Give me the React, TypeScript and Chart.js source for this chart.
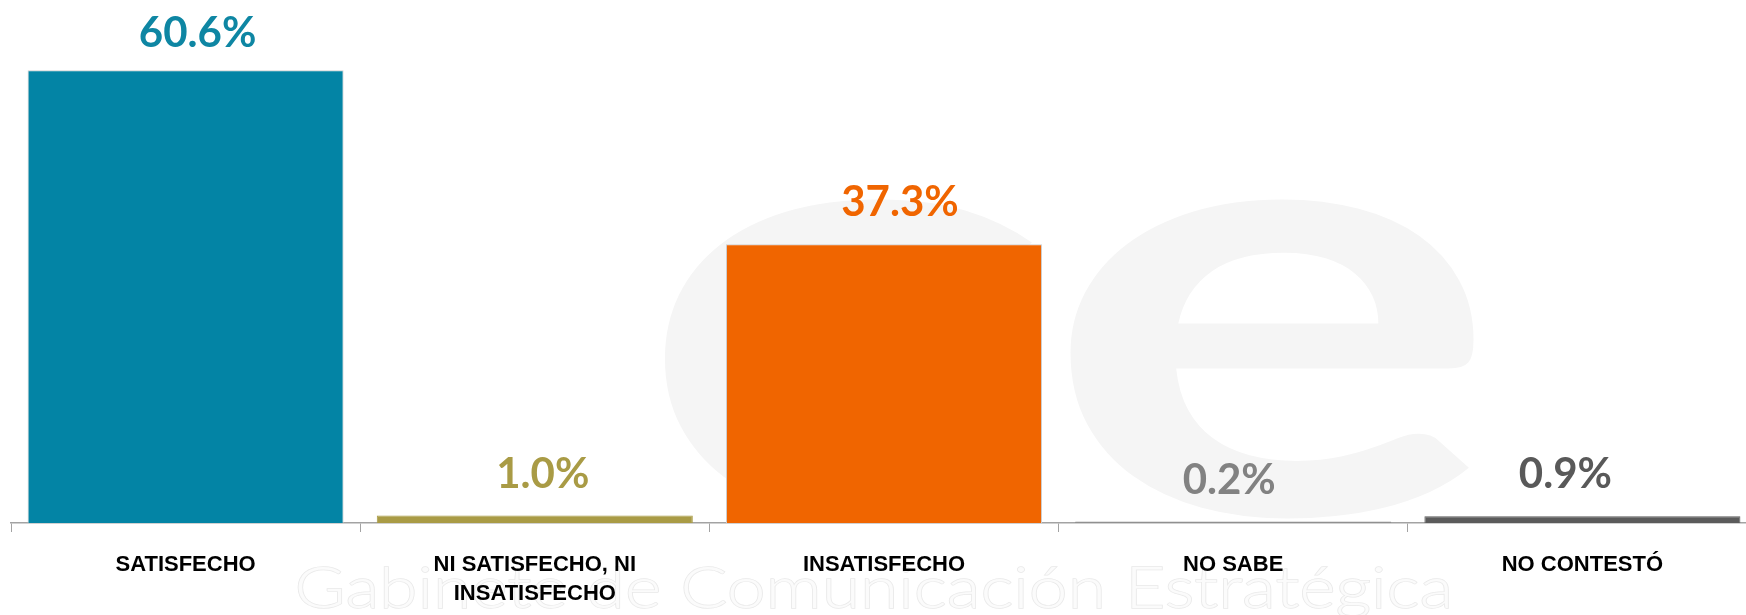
import React, { useEffect, useRef } from "react";
import { Chart, registerables } from "chart.js";

Chart.register(...registerables);

const categories: (string | string[])[] = [
  "SATISFECHO",
  ["NI SATISFECHO, NI", "INSATISFECHO"],
  "INSATISFECHO",
  "NO SABE",
  "NO CONTESTÓ",
];
const values = [60.6, 1.0, 37.3, 0.2, 0.9];
const valueLabels = ["60.6%", "1.0%", "37.3%", "0.2%", "0.9%"];
const barColors = ["#0384A5", "#A99B45", "#F06500", "#8C8C8C", "#5B5B5B"];
const labelColors = ["#0E86A3", "#A99B45", "#F06500", "#828282", "#595959"];
const borderColors = ["#cfcfcf", "#A99B45", "#cfcfcf", "#8C8C8C", "#5B5B5B"];
const watermarkTagline = "Gabinete de Comunicación Estratégica";
const watermarkMark = "ce";

// horizontal nudges of the value labels (style only)
const labelNudgeX = [12, 8, 16, -4, -17];

const watermarkPlugin = {
  id: "watermark",
  beforeDraw(chart: any) {
    const ctx = chart.ctx as CanvasRenderingContext2D;
    ctx.save();
    ctx.font = "bold 100px Lato";
    ctx.textBaseline = "alphabetic";
    ctx.textAlign = "left";
    let m = ctx.measureText(watermarkMark);
    let inkW = m.actualBoundingBoxLeft + m.actualBoundingBoxRight;
    let inkH = m.actualBoundingBoxAscent + m.actualBoundingBoxDescent;
    let sx = 818 / inkW;
    let sy = 320 / inkH;
    ctx.save();
    ctx.translate(662 + m.actualBoundingBoxLeft * sx, 200 + m.actualBoundingBoxAscent * sy);
    ctx.scale(sx, sy);
    ctx.fillStyle = "#f5f5f5";
    ctx.fillText(watermarkMark, 0, 0);
    ctx.restore();
    ctx.font = "300 100px Lato";
    m = ctx.measureText(watermarkTagline);
    inkW = m.actualBoundingBoxLeft + m.actualBoundingBoxRight;
    const capM = ctx.measureText("G");
    inkH = capM.actualBoundingBoxAscent;
    sx = 1150 / inkW;
    sy = 41 / inkH;
    ctx.translate(298 + m.actualBoundingBoxLeft * sx, 608);
    ctx.scale(sx, sy);
    ctx.strokeStyle = "#e9e9e9";
    ctx.lineWidth = 2.5;
    ctx.strokeText(watermarkTagline, 0, 0);
    ctx.fillStyle = "#fbfbfb";
    ctx.fillText(watermarkTagline, 0, 0);
    ctx.restore();
  },
};

const valueLabelPlugin = {
  id: "valueLabels",
  afterDatasetsDraw(chart: any) {
    const ctx = chart.ctx as CanvasRenderingContext2D;
    const meta = chart.getDatasetMeta(0);
    ctx.save();
    ctx.font = "bold 42px Lato";
    ctx.textAlign = "center";
    ctx.textBaseline = "alphabetic";
    meta.data.forEach((bar: any, i: number) => {
      const y = Math.max(bar.y - 28, 47);
      ctx.fillStyle = labelColors[i];
      ctx.fillText(valueLabels[i], bar.x + labelNudgeX[i], y);
    });
    ctx.restore();
  },
};

export default function App() {
  const canvasRef = useRef<HTMLCanvasElement | null>(null);

  useEffect(() => {
    if (!canvasRef.current) return;
    const chart = new Chart(canvasRef.current, {
      type: "bar",
      data: {
        labels: categories,
        datasets: [
          {
            data: values,
            backgroundColor: barColors,
            borderColor: borderColors,
            borderWidth: 1,
            barPercentage: 0.905,
            categoryPercentage: 1,
          },
        ],
      },
      options: {
        responsive: false,
        animation: false,
        layout: { padding: { left: 11, right: 0, top: 0, bottom: 0 } },
        plugins: {
          legend: { display: false },
          tooltip: { enabled: false },
          title: { display: false },
        },
        scales: {
          x: {
            offset: true,
            afterFit: (scale: any) => {
              scale.height = 92;
            },
            border: { display: true, color: "#a3a3a3", width: 1.5 },
            grid: {
              display: true,
              drawOnChartArea: false,
              drawTicks: true,
              tickLength: 9,
              color: "#a3a3a3",
              lineWidth: 1,
              offset: true,
            },
            ticks: {
              color: "#000000",
              padding: 18,
              maxRotation: 0,
              autoSkip: false,
              font: { family: "'Liberation Sans', Arial, sans-serif", size: 22, weight: "bold", lineHeight: 1.33 },
            },
          },
          y: {
            display: false,
            min: 0,
            max: 70,
          },
        },
      },
      plugins: [watermarkPlugin, valueLabelPlugin],
    });
    return () => chart.destroy();
  }, []);

  return (
    <div
      style={{
        position: "absolute",
        left: 0,
        top: 0,
        width: 1746,
        height: 615,
        overflow: "hidden",
        background: "#ffffff",
      }}
    >
      <canvas ref={canvasRef} width={1757} height={615} style={{ display: "block" }} />
    </div>
  );
}
